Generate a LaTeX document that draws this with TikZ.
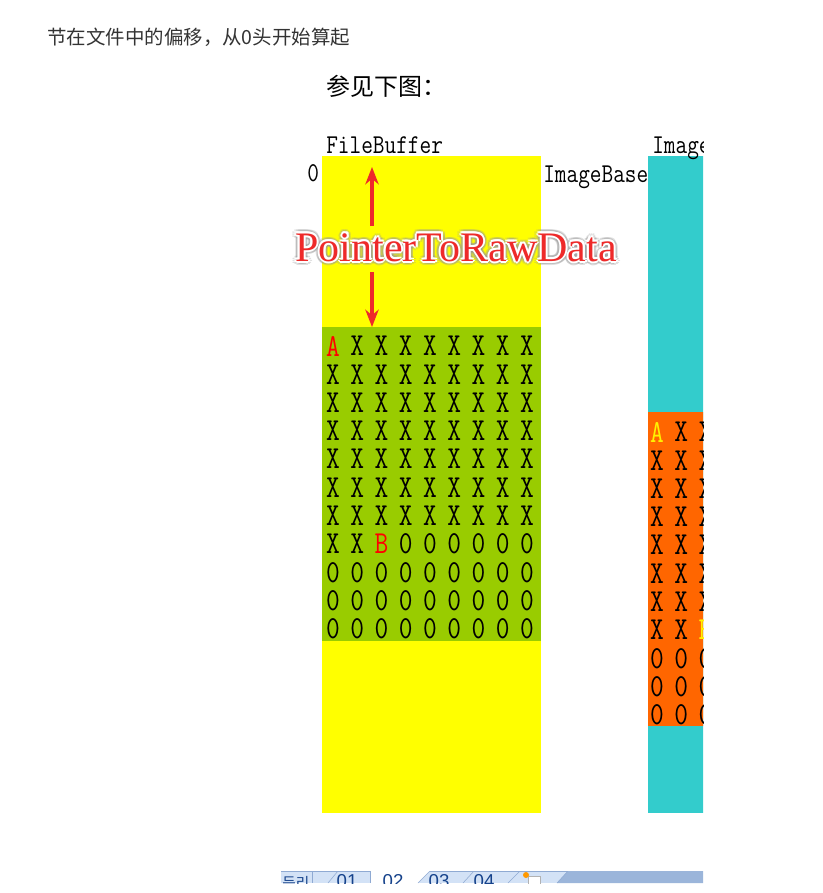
\documentclass[tikz,border=0pt]{standalone}
\usepackage{fontspec}
\usepackage{graphicx}
\usepackage{xcolor}
\usetikzlibrary{arrows.meta}
\newfontfamily\cjkfont{Noto Sans CJK SC}
\newfontfamily\hangulfont{Noto Sans CJK KR}
\newfontfamily\ptrserif{Liberation Serif}
\newfontfamily\tabsans{Liberation Sans}
\definecolor{fbyellow}{HTML}{FFFF00}
\definecolor{rawgreen}{HTML}{99CC00}
\definecolor{imgcyan}{HTML}{33CCCC}
\definecolor{imgorange}{HTML}{FF6600}
\definecolor{ptrred}{HTML}{EE2A2A}
\definecolor{tabblue}{HTML}{15428B}
\definecolor{tablight}{HTML}{D3E2F6}
\definecolor{tabdark}{HTML}{9BB5DA}
\definecolor{tabline}{HTML}{8FAAD3}
\colorlet{hicol}{red}
\newcommand{\hilite}[1]{\textcolor{hicol}{#1}}
\newcommand{\tallmono}[1]{\scalebox{1}[1.2]{#1}}
\newcommand{\rawrows}{{\hilite{A},X,X,X,X,X,X,X,X},{X,X,X,X,X,X,X,X,X},{X,X,X,X,X,X,X,X,X},{X,X,X,X,X,X,X,X,X},{X,X,X,X,X,X,X,X,X},{X,X,X,X,X,X,X,X,X},{X,X,X,X,X,X,X,X,X},{X,X,\hilite{B},0,0,0,0,0,0},{0,0,0,0,0,0,0,0,0},{0,0,0,0,0,0,0,0,0},{0,0,0,0,0,0,0,0,0}}

\begin{document}
\begin{tikzpicture}[x=0.75pt,y=-0.75pt,
  cell/.style={inner sep=0pt, font=\ttfamily\fontsize{20pt}{20pt}\selectfont},
  monolabel/.style={inner sep=0pt, anchor=base west, font=\ttfamily\fontsize{17pt}{17pt}\selectfont},
  ptrlabel/.style={inner sep=0pt, anchor=base, font=\ptrserif\fontsize{31.5pt}{31.5pt}\selectfont},
  ptrarrow/.style={ptrred, line width=2.6pt, -{Stealth[length=13pt,width=10pt]}},
  tabtext/.style={inner sep=0pt, anchor=base, text=tabblue, font=\tabsans\fontsize{14pt}{14pt}\selectfont}]

\useasboundingbox (0,0) rectangle (823,893);

% text above the figure
\node[anchor=base west, inner sep=0pt, text=black!80, font=\cjkfont\fontsize{14.6pt}{14.6pt}\selectfont] (intro) at (47,44) {节在文件中的偏移，从0头开始算起};
\node[anchor=base west, inner sep=0pt, font=\cjkfont\fontsize{18pt}{18pt}\selectfont] (seefig) at (326,95) {参见下图：};

% file buffer
\fill[fbyellow] (322,156) rectangle (541,813);
\fill[rawgreen] (322,327) rectangle (541,641);

\colorlet{hicol}{red}
\foreach \row [count=\r from 0] in \rawrows {
  \foreach \ch [count=\k from 0] in \row
    \node[cell] (raw-\r-\k) at (333+24.25*\k, 346+28.3*\r) {\tallmono{\ch}};
}

\node[monolabel] (filename) at (326,153) {\tallmono{FileBuffer}};
\node[monolabel] (zero) at (307,181) {\tallmono{0}};
\node[monolabel] (imgbase) at (543,182) {\tallmono{ImageBase}};

% PointerToRawData
\coordinate (ptrtop) at (372,167);
\coordinate (ptrup) at (372,226);
\coordinate (ptrdown) at (372,272);
\coordinate (ptrbot) at (372,327);
\draw[ptrarrow] (ptrup) -- (ptrtop);
\draw[ptrarrow] (ptrdown) -- (ptrbot);

\foreach \a in {0,30,...,330}
  \node[ptrlabel, text=black!40, opacity=0.3] at ([shift={(\a:4)}] 456,261) {PointerToRawData};
\foreach \a in {0,45,...,315}
  \node[ptrlabel, text=white] at ([shift={(\a:2)}] 456,261) {PointerToRawData};
\node[ptrlabel, text=ptrred] (ptr) at (456,261) {PointerToRawData};

% image buffer, cut off at the right
\begin{scope}
\clip (600,120) rectangle (703,830);
\fill[imgcyan] (648,156) rectangle (760,813);
\fill[imgorange] (648,412) rectangle (760,726);
\colorlet{hicol}{yellow}
\foreach \row [count=\r from 0] in \rawrows {
  \foreach \ch [count=\k from 0] in \row
    \node[cell] (img-\r-\k) at (657+24.25*\k, 432+28.3*\r) {\tallmono{\ch}};
}
\node[monolabel] (imgname) at (652,153) {\tallmono{ImageBuffer}};
\end{scope}

% sheet tabs
\begin{scope}
\clip (281,871) rectangle (703,883);
\fill[tablight] (281,871) rectangle (703,883);
\fill[tabdark] (568,871) -- (703,871) -- (703,883) -- (557,883) -- cycle;
\fill[white] (370,871) -- (430,871) -- (418,883) -- (370,883) -- cycle;
\draw[tabline] (281,871.5) -- (370,871.5);
\draw[tabline] (430,871.5) -- (568,871.5);
\draw[tabline] (312,871) -- (312,883);
\draw[tabline] (328,883) -- (338,871);
\draw[tabline] (370,871) -- (370,883);
\draw[tabline] (418,883) -- (430,871);
\draw[tabline] (463,883) -- (474,871);
\draw[tabline] (508,883) -- (520,871);
\draw[tabline] (557,883) -- (568,871);
\node[anchor=base west, inner sep=0pt, text=tabblue, font=\hangulfont\fontsize{11pt}{11pt}\selectfont] (tabnav) at (282,888) {듯리};
\node[tabtext] (tab1) at (347,887) {01};
\node[tabtext] (tab2) at (393,887) {02};
\node[tabtext] (tab3) at (439,887) {03};
\node[tabtext] (tab4) at (484,887) {04};
\fill[white, draw=gray!60] (528,876) rectangle (540,886);
\fill[orange!80!yellow] (526,875) circle [radius=3];
\end{scope}

\end{tikzpicture}
\end{document}
